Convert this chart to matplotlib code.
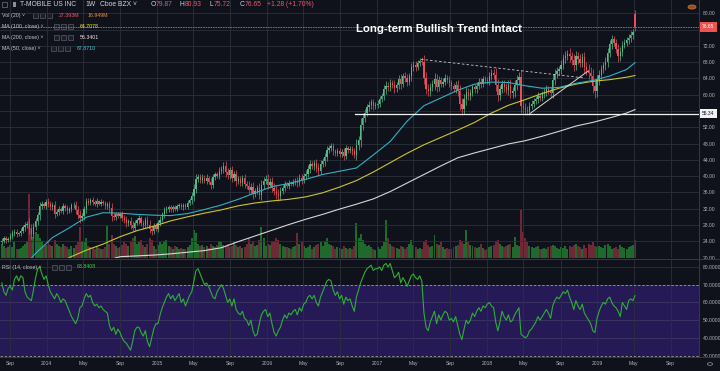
import numpy as np
import pandas as pd
import matplotlib
matplotlib.use('Agg')
import matplotlib.pyplot as plt
import matplotlib.dates as mdates
from matplotlib.patches import Rectangle, Circle
from matplotlib.lines import Line2D

W, H = 720, 371
BG = '#10121b'
GRID = '#2b2f3b'
UP = '#53b987'
DN = '#eb4d5c'
FONT = ['Liberation Sans', 'DejaVu Sans']
plt.rcParams['font.family'] = FONT

# weekly bars, first week starting 2013-08-05
start_week = '2013-08-05'
first_open = 23.8
closes = [
    # 2013
    24.1, 24.7, 24.3, 24.6,
    25.4, 25.9, 26.3, 25.7, 25.9,
    26.6, 27.4, 27.9, 28.3,
    27.1, 25.8, 27.6, 28.9,
    30.4, 32.6, 33.1, 32.7, 33.6,
    # 2014
    33.2, 32.4, 32.9, 30.8,
    31.2, 31.9, 31.5, 32.6,
    32.1, 31.4, 31.9, 32.8, 33.0,
    31.6, 30.4, 29.6, 30.2,
    31.8, 33.9, 33.4, 34.2,
    33.6, 33.1, 33.8, 33.2, 33.7,
    33.3, 32.6, 33.1, 32.2,
    30.1, 29.9, 30.6, 30.3,
    30.8, 29.7, 29.2, 28.4, 28.9,
    28.0, 27.3, 28.5, 29.1,
    29.6, 28.4, 27.9, 29.3,
    28.1, 26.9, 26.4, 27.8, 27.0,
    # 2015
    28.6, 29.3, 30.7, 31.6,
    31.9, 32.4, 31.8, 32.3,
    32.0, 32.6, 32.9, 32.3, 32.8,
    32.5, 33.4, 34.1, 35.2,
    36.9, 39.4, 39.8, 39.1,
    39.6, 38.9, 39.5, 38.6, 37.8,
    39.7, 40.4, 40.1, 41.3,
    41.8, 42.5, 41.0, 40.2, 41.4,
    39.6, 40.4, 38.8, 39.2,
    38.4, 39.5, 38.0, 37.6,
    36.6, 37.4, 35.6, 36.3, 37.2,
    35.4, 37.8, 38.9, 39.4,
    # 2016
    37.9, 38.6, 37.2, 36.4,
    35.6, 35.1, 36.4, 37.1, 38.0,
    37.6, 38.3, 38.1, 38.6,
    38.9, 38.4, 39.6, 39.0,
    40.1, 40.6, 41.8, 42.9, 42.4,
    43.1, 42.0, 41.3, 43.0,
    43.6, 44.8, 46.3, 46.9,
    47.3, 46.1, 45.6, 46.2, 45.4,
    46.0, 44.9, 46.8, 46.4,
    46.7, 46.1, 45.3, 47.6, 48.8,
    52.6, 54.3, 55.6, 56.9,
    57.4, 58.1, 57.2, 57.5,
    # 2017
    57.8, 58.9, 59.6, 61.3, 62.2,
    61.8, 62.9, 62.4, 61.6,
    62.3, 63.8, 62.7, 64.6,
    64.1, 63.2, 64.5, 66.7,
    67.3, 66.9, 67.8, 68.4, 68.1,
    64.2, 61.5, 60.8, 61.9,
    62.6, 63.9, 61.8, 63.5, 62.7,
    63.2, 64.1, 63.6, 62.8,
    62.1, 61.5, 62.3, 60.9,
    57.8, 56.4, 58.9, 60.6, 59.8,
    60.5, 61.8, 61.3, 62.2,
    63.1, 62.6, 63.9, 63.5,
    # 2018
    63.4, 64.7, 65.3, 64.9, 62.4,
    59.9, 61.3, 62.6, 61.8,
    61.2, 62.5, 60.4, 60.9,
    62.3, 63.6, 64.4, 57.2, 56.8,
    56.2, 56.0, 57.3, 57.8,
    58.4, 58.9, 59.6, 59.3,
    60.1, 60.7, 61.4, 61.0, 60.5,
    63.6, 65.2, 65.8, 66.2,
    67.4, 68.9, 69.5, 70.1,
    69.4, 68.6, 67.3, 69.5, 68.7,
    67.9, 69.2, 66.8, 66.1,
    65.3, 64.6, 62.1, 60.8, 63.6,
    # 2019
    64.8, 66.3, 67.2, 68.1,
    70.3, 72.4, 73.6, 72.8,
    71.2, 69.4, 70.6, 72.3,
    72.8, 73.4, 73.9, 74.6, 75.37,
    76.65,
]
wick = [
    0.6, 0.5, 0.7, 0.4, 0.5, 0.8, 0.6, 0.7, 0.4, 0.6, 0.5, 0.8, 0.7,
    1.4, 1.2, 0.9, 0.8, 0.9, 1.1, 0.7, 0.6, 0.8,
    0.9, 0.7, 0.8, 1.0, 0.6, 0.7, 0.5, 0.8, 0.6, 0.7, 0.5, 0.6, 0.7,
    0.8, 1.0, 1.2, 0.7, 0.9, 0.8, 0.6, 0.5, 0.6, 0.5, 0.7, 0.4, 0.6,
    0.5, 0.7, 0.6, 0.9, 1.1, 0.8, 0.6, 0.7, 0.5, 0.7, 0.8, 0.9, 0.6,
    1.0, 0.9, 0.7, 0.6, 0.8, 0.7, 0.9, 0.6, 0.8, 1.0, 0.9, 0.7, 0.6,
    0.7, 0.8, 0.6, 0.9, 0.7, 0.6, 0.5, 0.6, 0.5, 0.6, 0.4, 0.5, 0.6,
    0.5, 0.7, 0.6, 0.9, 1.2, 1.0, 0.8, 0.7, 0.8, 0.7, 0.9, 0.6, 1.0,
    0.8, 0.7, 0.6, 0.9, 0.8, 1.0, 1.3, 0.9, 0.8, 1.1, 0.9, 1.2, 0.8,
    0.9, 0.8, 1.0, 0.7, 1.1, 0.9, 1.2, 0.8, 0.7, 1.0, 1.3, 0.9, 0.8,
    1.0, 0.9, 1.2, 1.1, 1.3, 1.2, 0.9, 0.8, 0.7, 0.6, 0.7, 0.5, 0.6,
    0.7, 1.0, 0.8, 0.9, 0.7, 0.8, 0.9, 1.0, 0.7, 0.8, 1.1, 1.2, 0.9,
    0.8, 1.0, 1.1, 0.7, 0.8, 0.9, 0.6, 0.7, 0.8, 0.7, 0.9, 0.8, 0.6,
    0.7, 0.8, 0.9, 1.4, 1.1, 1.6, 1.2, 1.0, 0.9, 1.0, 0.8, 0.9, 0.7,
    0.8, 0.9, 0.7, 1.0, 1.2, 1.0, 0.9, 0.8, 1.1, 0.9, 1.0, 1.2, 0.8,
    0.9, 1.0, 0.8, 1.1, 0.9, 1.0, 0.8, 0.7, 0.9, 1.6, 1.3, 1.1, 1.0,
    0.9, 1.4, 1.2, 1.0, 0.9, 0.8, 0.9, 0.7, 1.0, 0.9, 0.8, 1.0, 1.2,
    1.5, 1.3, 1.2, 1.4, 1.1, 1.0, 0.9, 0.8, 1.0, 0.9, 1.0, 0.8, 0.7,
    0.8, 0.9, 1.0, 1.1, 1.6, 1.5, 1.2, 1.0, 1.1, 1.0, 1.2, 1.3, 1.1,
    1.4, 1.2, 1.1, 1.7, 1.4, 1.2, 1.0, 0.9, 0.8, 0.9, 0.8, 1.0, 0.9,
    0.8, 0.9, 1.0, 0.8, 1.0, 1.4, 1.2, 1.0, 0.9, 1.1, 1.0, 1.2, 0.9,
    1.3, 1.2, 1.5, 1.3, 1.1, 1.2, 1.1, 1.4, 1.3, 1.4, 1.5, 1.8, 1.6, 1.3,
    1.2, 1.0, 0.9, 1.1, 1.2, 1.0, 1.1, 0.9, 1.0, 1.3, 1.2, 1.0,
    0.9, 0.8, 0.9, 1.0, 0.8, 1.0,
]
volume = [  # millions
    22, 18, 15, 17, 20, 16, 24, 14, 13, 15, 18, 22, 26, 98, 45, 32, 40,
    36, 30, 26, 18, 20,
    25, 20, 18, 27, 22, 18, 16, 21, 18, 16, 14, 19, 15, 20, 24, 47, 26,
    24, 30, 18, 16, 17, 14, 18, 15, 13, 14, 16, 48, 22, 35, 22, 18, 15,
    16, 20, 24, 22, 18, 26, 30, 34, 22, 25, 28, 20, 16, 22, 30, 28, 18, 14,
    20, 24, 22, 26, 28, 18, 16, 14, 18, 16, 14, 15, 13, 14, 17, 20, 30,
    42, 38, 22, 18, 20, 16, 18, 15, 22, 18, 16, 20, 26, 24, 20, 18, 22, 16,
    18, 24, 20, 16, 18, 15, 17, 22, 30, 22, 26, 18, 20, 28, 47, 30, 18,
    22, 20, 24, 26, 30, 28, 22, 18, 16, 17, 15, 14, 16, 18, 38, 22, 26,
    18, 15, 17, 20, 14, 16, 20, 22, 24, 18, 26, 30, 22, 20, 18, 14, 16, 15,
    14, 18, 15, 13, 15, 14, 18, 53, 30, 36, 28, 22, 18, 20, 16, 14, 12,
    16, 14, 18, 24, 58, 30, 22, 18, 16, 15, 14, 18, 16, 14, 16, 22, 28,
    20, 16, 14, 15, 13, 24, 28, 20, 16, 18, 35, 22, 20, 24, 16, 14, 15, 13,
    14, 16, 18, 20, 28, 26, 22, 42, 24, 20, 18, 16, 15, 17, 22, 15, 12,
    14, 16, 18, 20, 26, 28, 22, 18, 16, 18, 20, 22, 16, 32, 20, 18, 73, 40,
    30, 24, 18, 16, 15, 16, 18, 14, 13, 15, 14, 16, 18, 20, 18, 15, 14,
    16, 15, 18, 14, 18, 16, 20, 22, 18, 16, 14, 20, 15, 22, 20, 24, 18, 16,
    18, 16, 15, 20, 22, 18, 14, 15, 16, 14, 20, 17, 15, 14, 16, 18, 20,
    27.393,
]
rsi = [
    71, 66, 64, 68, 69, 67, 73, 75, 72, 75, 74, 66, 63, 62, 61, 67, 74,
    79, 80, 76, 73, 75,
    70, 66, 64, 62, 65, 63, 60, 62, 61, 58, 55, 52, 50, 48, 51, 57, 58,
    62, 65, 63, 64, 60, 58, 59, 57, 58, 56, 55, 54, 47, 44, 46, 42, 45,
    43, 40, 38, 37, 35, 33, 38, 44, 46, 46, 43, 41, 44, 38, 35, 40, 45, 48,
    48, 53, 57, 60, 63, 65, 62, 64, 61, 63, 65, 60, 62, 58, 61, 64, 66,
    72, 78, 79, 76, 73, 70, 71, 69, 66, 63, 62, 66, 68, 70, 68, 64, 60, 62,
    58, 62, 56, 54, 53, 55, 51, 50, 47, 50, 44, 41, 42, 48, 53, 55, 56,
    52, 54, 48, 43, 41, 44, 46, 50, 53, 51, 54, 53, 55, 56, 53, 57, 55,
    59, 60, 63, 64, 62, 64, 60, 58, 63, 66, 69, 72, 73, 72, 67, 64, 66, 62,
    64, 59, 63, 61, 62, 58, 55, 63, 67, 71, 74, 77, 79, 80, 81, 78, 79,
    79, 80, 78, 81, 82, 80, 82, 78, 74, 75, 77, 71, 74, 72, 69, 72, 75,
    76, 74, 73, 75, 72, 54, 46, 44, 49, 52, 55, 48, 53, 50, 53, 55, 54, 50,
    51, 49, 52, 47, 42, 39, 45, 50, 48, 50, 54, 52, 55, 57, 55, 58, 57,
    59, 60, 58, 57, 49, 44, 49, 55, 52, 50, 53, 49, 50, 53, 55, 57, 42, 41,
    40, 41, 44, 45, 47, 49, 52, 50, 52, 54, 56, 54, 51, 58, 61, 63, 62,
    64, 66, 65, 67, 63, 60, 56, 61, 58, 56, 59, 54, 52, 50, 48, 44, 43, 51,
    55, 58, 60, 59, 62, 63, 60, 58, 57, 55, 52, 60, 58, 56, 61, 62, 61,
    63.84,
]
last_open, last_high, last_low = 79.87, 80.93, 75.72

# moving averages sampled every 8 weeks (week index)
ma_idx = list(range(0, 297, 8)) + [300]
ma50 = [13.5, 16.5, 21.0, 24.9, 27.3, 29.9, 31.0, 30.9, 30.6, 30.4, 30.3,
        30.8, 31.8, 32.9, 34.3, 35.9, 37.4, 38.2, 39.2, 40.4, 41.2, 42.0,
        45.2, 48.5, 53.5, 57.3, 59.2, 61.1, 62.6, 63.1, 63.0, 62.2, 61.6,
        61.8, 62.8, 63.5, 64.6, 66.2, 67.871]
ma100 = [12.0, 13.5, 15.0, 16.8, 20.0, 21.8, 23.3, 25.1, 26.6, 27.7, 29.0,
         30.0, 30.9, 31.7, 32.7, 33.4, 33.9, 34.3, 34.9, 35.9, 37.3, 38.9,
         41.0, 43.3, 45.6, 47.7, 49.5, 51.3, 53.2, 55.5, 57.4, 58.8, 60.3,
         61.6, 62.6, 63.3, 63.7, 64.3, 64.708]
ma200 = [8.0, 9.0, 10.5, 12.0, 13.5, 15.0, 19.0, 20.2, 20.4, 20.6, 20.9,
         21.3, 21.7, 22.4, 23.9, 25.3, 26.7, 28.1, 29.4, 30.6, 31.9, 33.1,
         34.4, 36.2, 38.3, 40.4, 42.5, 44.5, 45.7, 46.8, 47.9, 48.7, 49.8,
         51.0, 52.3, 53.2, 54.3, 55.5, 56.34]

# drawings
support_start = '2016-10-20'
support_level = 55.34
dash_dates = ['2017-05-26', '2018-11-21']
dash_prices = [68.7, 64.1]
rise_dates = ['2018-05-23', '2018-12-01']
rise_prices = [55.4, 65.8]

price_ticks = list(range(20, 81, 4))
hidden_price_labels = [56, 76]   # covered by the price boxes
rsi_ticks = [30, 40, 50, 60, 70, 80]
time_ticks = ['2013-09-01', '2014-01-01', '2014-05-01', '2014-09-01',
              '2015-01-01', '2015-05-01', '2015-09-01', '2016-01-01',
              '2016-05-01', '2016-09-01', '2017-01-01', '2017-05-01',
              '2017-09-01', '2018-01-01', '2018-05-01', '2018-09-01',
              '2019-01-01', '2019-05-01', '2019-09-01']
time_labels = ['Sep', '2014', 'May', 'Sep', '2015', 'May', 'Sep', '2016',
               'May', 'Sep', '2017', 'May', 'Sep', '2018', 'May', 'Sep',
               '2019', 'May', 'Sep']

assert len(closes) == len(wick) == len(volume) == len(rsi) == 301

weeks = pd.date_range(start_week, periods=len(closes), freq='7D')
xd = mdates.date2num(weeks)
c = np.array(closes)
o = np.array([first_open] + closes[:-1])
o[-1] = last_open
wk = np.array(wick)
hi = np.maximum(o, c) + wk
lo = np.minimum(o, c) - wk
hi[-1], lo[-1] = last_high, last_low
up = c >= o
col = np.where(up, UP, DN)
vcol = np.where(up, '#1d6a2c', '#6e2836')

x0 = mdates.date2num(pd.Timestamp('2013-07-30'))
x1 = x0 + 699 / 0.30153

fig = plt.figure(figsize=(W / 100, H / 100), dpi=100, facecolor=BG)
ax = fig.add_axes([0, 113 / H, 699 / W, 258 / H])
axr = fig.add_axes([0, 14 / H, 699 / W, 98 / H], facecolor=BG)
axv = ax.twinx()
ax.set_zorder(axv.get_zorder() + 1)
ax.patch.set_visible(False)
axv.patch.set_facecolor(BG)

for a in (ax, axr, axv):
    a.set_xlim(x0, x1)
    for s in a.spines.values():
        s.set_visible(False)

# volume
axv.bar(xd, volume, width=6.6, color=vcol, linewidth=0)
axv.set_ylim(0, 27.393 * 258 / 18)
axv.set_yticks([])
axv.tick_params(length=0, labelbottom=False)

# grid
ax.set_ylim(19.88, 83.27)
ax.set_yticks(price_ticks)
ax.set_yticklabels(['' if v in hidden_price_labels else '%.2f' % v
                    for v in price_ticks])
ax.set_xticks(mdates.date2num(pd.to_datetime(time_ticks)))
ax.grid(True, color=GRID, lw=0.6, zorder=0)
ax.tick_params(axis='x', length=0, labelbottom=False)
ax.tick_params(axis='y', left=False, labelleft=False, right=False,
               labelright=True, length=0, pad=2.6, labelsize=3.6,
               labelcolor='#b2b5be')

# candles
ax.vlines(xd, lo, hi, colors=col, lw=0.5, zorder=3)
ax.bar(xd, np.maximum(np.abs(c - o), 0.12), bottom=np.minimum(o, c),
       width=4.3, color=col, linewidth=0, zorder=4)

# moving averages
mx = xd[ma_idx]
ax.plot(mx, ma200, color='#d6d6d6', lw=0.8, zorder=5)
ax.plot(mx, ma100, color='#c9c52c', lw=0.8, zorder=5)
ax.plot(mx, ma50, color='#2fb0c4', lw=0.8, zorder=5)

# drawings
ax.plot([mdates.date2num(pd.Timestamp(support_start)), x1],
        [support_level] * 2, color='#f0f0f0', lw=0.9, zorder=6)
ax.plot(mdates.date2num(pd.to_datetime(dash_dates)), dash_prices,
        color='#c8c8c8', lw=0.6, ls=(0, (3, 2.5)), zorder=6)
ax.plot(mdates.date2num(pd.to_datetime(rise_dates)), rise_prices,
        color='#d8d8d8', lw=0.7, zorder=6)
ax.axhline(closes[-1], color='#ef5350', lw=0.6, ls=(0, (2, 1)), zorder=6)

ax.annotate('%.2f' % closes[-1], xy=(1.0, closes[-1]),
            xycoords=('axes fraction', 'data'), xytext=(3.2, 0),
            textcoords='offset pixels', ha='left', va='center',
            fontsize=3.6, color='white', annotation_clip=False,
            bbox=dict(boxstyle='square,pad=0.45', fc='#ef5350', ec='none'))
ax.annotate('%.2f' % support_level, xy=(1.0, support_level),
            xycoords=('axes fraction', 'data'), xytext=(3.2, 0),
            textcoords='offset pixels', ha='left', va='center',
            fontsize=3.6, color='#131722', annotation_clip=False,
            bbox=dict(boxstyle='square,pad=0.45', fc='#f2f2f2', ec='none'))

# RSI pane
axr.axhspan(30, 70, color='#251a56', lw=0, zorder=0)
axr.set_ylim(29.2, 84.5)
axr.set_yticks(rsi_ticks)
axr.set_yticklabels(['%.4f' % v for v in rsi_ticks])
axr.set_xticks(mdates.date2num(pd.to_datetime(time_ticks)))
axr.set_xticklabels(time_labels)
axr.grid(True, axis='x', color=GRID, lw=0.6, zorder=1)
for lv in (40, 50, 60, 80):
    axr.axhline(lv, color='#3c3766' if lv < 70 else GRID, lw=0.6, zorder=1)
for lv in (30, 70):
    axr.axhline(lv, color='#9a9dab', lw=0.6, ls=(0, (3, 2)), zorder=2)
axr.plot(xd, rsi, color='#2fae35', lw=0.8, zorder=3)
axr.tick_params(axis='y', left=False, labelleft=False, right=False,
                labelright=True, length=0, pad=2.6, labelsize=3.6,
                labelcolor='#b2b5be')
axr.tick_params(axis='x', length=0, pad=3.2, labelsize=3.6,
                labelcolor='#b2b5be')

# separators
sep = '#363a46'
fig.add_artist(Line2D([699 / W] * 2, [14 / H, 1], color=sep, lw=0.7))
fig.add_artist(Line2D([0, 1], [1 - 258.5 / H] * 2, color=sep, lw=0.7))
fig.add_artist(Line2D([0, 1], [14 / H] * 2, color=sep, lw=0.7))


def ftext(x, y, s, color='#c3c6cf', size=3.8, **kw):
    fig.text(x / W, 1 - y / H, s, color=color, fontsize=size,
             ha='left', va='center', **kw)


def boxes(x, y, n=3, step=7):
    for k in range(n):
        fig.add_artist(Rectangle(((x + k * step) / W, 1 - (y + 2.6) / H),
                                 5 / W, 5 / H, fc='#1c1f2a', ec='#6a6e7a',
                                 lw=0.4))


# header
red = '#ef5566'
fig.add_artist(Rectangle((2 / W, 1 - 7 / H), 5 / W, 5 / H, fc='none',
                         ec='#8a8e99', lw=0.4))
fig.add_artist(Rectangle((13 / W, 1 - 7 / H), 3 / W, 5 / H, fc='#8a8e99',
                         ec='none'))
ftext(20, 4.5, 'T-MOBILE US INC', '#d1d4dc', 4.9)
ftext(85, 4.5, '1W', '#d1d4dc', 4.9)
ftext(100, 4.5, 'Cboe BZX \u02c5', '#d1d4dc', 4.9)
for lx, letter, val in [(151, 'O', '79.87'), (180, 'H', '80.93'),
                        (209, 'L', '75.72'), (240, 'C', '76.65')]:
    ftext(lx, 4.5, letter, '#d1d4dc', 4.9)
    ftext(lx + 5, 4.5, val, red, 4.9)
ftext(267, 4.5, '+1.28 (+1.70%)', red, 4.9)

ftext(2, 15.3, 'Vol (20) \u02c5')
boxes(33, 15.3)
ftext(59, 15.3, '27.393M', red)
ftext(88, 15.3, '16.949M', '#e8903e')
ftext(2, 26.3, 'MA (100, close) \u02c5')
boxes(54, 26.3)
ftext(80, 26.3, '64.7078', '#f4ef3a')
ftext(2, 37.3, 'MA (200, close) \u02c5')
boxes(54, 37.3)
ftext(80, 37.3, '56.3401', '#e6e6e6')
ftext(2, 48.5, 'MA (50, close) \u02c5')
boxes(51, 48.5)
ftext(77, 48.5, '67.8710', '#38c9da')
ftext(2, 267, 'RSI (14, close) \u02c5')
boxes(52, 267)
ftext(77, 267, '63.8408', '#3fd044')

fig.text(439 / W, 1 - 29 / H, 'Long-term Bullish Trend Intact',
         color='white', fontsize=8.2, fontweight='bold', ha='center',
         va='center', family='Liberation Sans')

fig.add_artist(Circle((692 / W, 1 - 7 / H), 4 / W, fc='#9a4d22',
                      ec='#d47a3a', lw=0.5))
fig.add_artist(Circle((710 / W, 1 - 364 / H), 2.6 / W, fc='none',
                      ec='#9598a1', lw=0.5))

fig.savefig('out.png', dpi=100, facecolor=BG)
